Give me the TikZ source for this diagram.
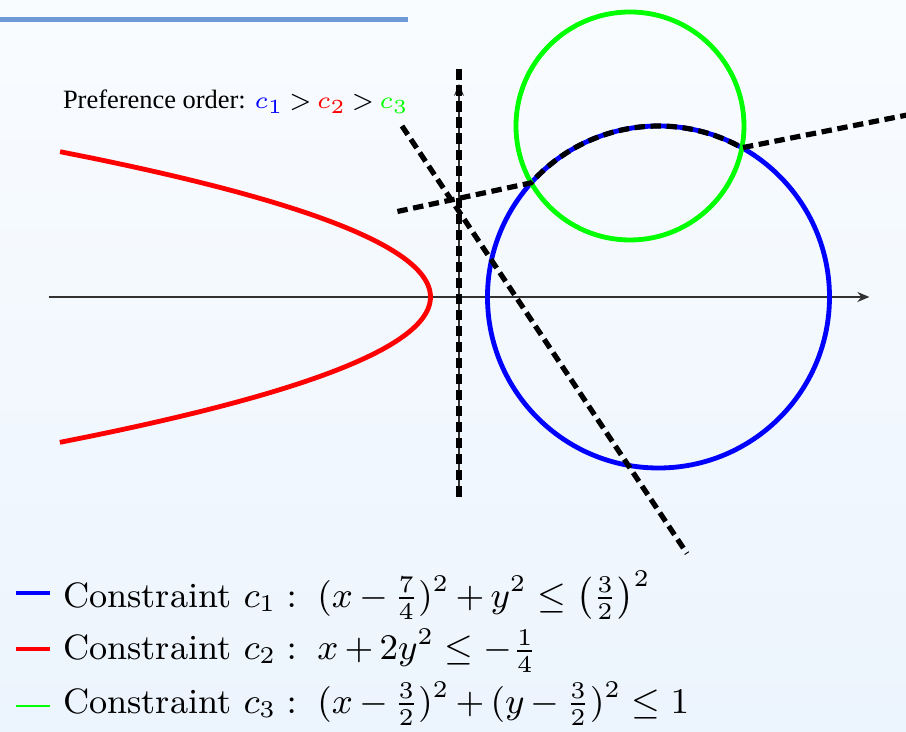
\documentclass[tikz,border=0pt]{standalone}
\usepackage{fontspec}
\usepackage{amsmath, amssymb}
\usepackage{tikz}
\usetikzlibrary{arrows.meta, positioning, calc}
\newfontfamily\prefont{Liberation Serif}
\newcommand\lgfont{\fontsize{8.8}{11}\selectfont\medmuskip=3mu\relax}
\newcommand\prefmath{\fontsize{6.2}{7}\selectfont\thickmuskip=3mu\relax}
\definecolor{barblue}{RGB}{110, 155, 215}
\definecolor{bgtop}{RGB}{249, 252, 255}
\definecolor{bgbot}{RGB}{236, 244, 253}
\definecolor{axgray}{RGB}{50, 50, 50}
\definecolor{cone}{RGB}{0, 0, 255}
\definecolor{ctwo}{RGB}{255, 0, 0}
\definecolor{cthree}{RGB}{0, 255, 0}

\begin{document}
\begin{tikzpicture}[
          cons/.style={line width=1.2pt},
          guide/.style={line width=1.3pt, dash pattern=on 2.6pt off 1.4pt},
          ax/.style={axgray, line width=0.5pt, -{Stealth[length=3pt, width=2.5pt]}},
          lg/.style={anchor=base west, inner sep=0pt, font=\lgfont},
      ]
      % background and title bar
      \shade[top color=bgtop, bottom color=bgbot]
          (-4.026, -3.807) rectangle (3.921, 2.605);
      \useasboundingbox (-4.026, -3.807) rectangle (3.921, 2.605);
      \fill[barblue] (-4.026, 2.415) rectangle (-0.447, 2.455);

      % axes
      \draw[ax] (-3.6, 0) -- (3.6, 0);
      \draw[ax] (0, -1.7) -- (0, 1.87);

      % constraints
      \draw[cons, cone] (1.75, 0) circle (1.5);
      \draw[cons, cthree] (1.5, 1.5) circle (1);
      \draw[cons, ctwo] plot[domain=-1.275:1.275, smooth, samples=60]
          ({-0.25-2*\x*\x}, \x);

      % relaxed solutions
      \coordinate (p1) at (0.6331, 1.0014);
      \coordinate (p2) at (2.4818, 1.3095);
      \draw[guide] (0, -1.75) -- (0, 2);
      \draw[guide] (-0.5, 1.5) -- (2, -2.25);
      \draw[guide] (-0.54, 0.75) -- (p1)
          arc[start angle=138.1, end angle=60.8, radius=1.5] -- (3.95, 1.6);

      \node[anchor=base west, inner sep=0pt,
            font=\prefont\fontsize{6.6}{8}\selectfont] (pref)
          at (-3.48, 1.65)
          {Preference order: {\prefmath
          $\textcolor{cone}{c_1} > \textcolor{ctwo}{c_2} > \textcolor{cthree}{c_3}$}};

      % legend
      \node[lg] (leg1) at (-3.48, -2.72)
          {Constraint $c_1 :\; (x-\frac{7}{4})^2+y^2\leq\left(\frac{3}{2}\right)^2$};
      \node[lg] (leg2) at (-3.48, -3.184)
          {Constraint $c_2 :\; x+2y^2\leq-\frac{1}{4}$};
      \node[lg] (leg3) at (-3.48, -3.649)
          {Constraint $c_3 :\; (x-\frac{3}{2})^2+(y-\frac{3}{2})^2\leq 1$};
      \draw[cons, cone] (-3.886, -2.596) -- (-3.588, -2.596);
      \draw[cons, ctwo] (-3.886, -3.088) -- (-3.588, -3.088);
      \draw[cthree, line width=0.4pt] (-3.886, -3.588) -- (-3.588, -3.588);
      \end{tikzpicture}
\end{document}
